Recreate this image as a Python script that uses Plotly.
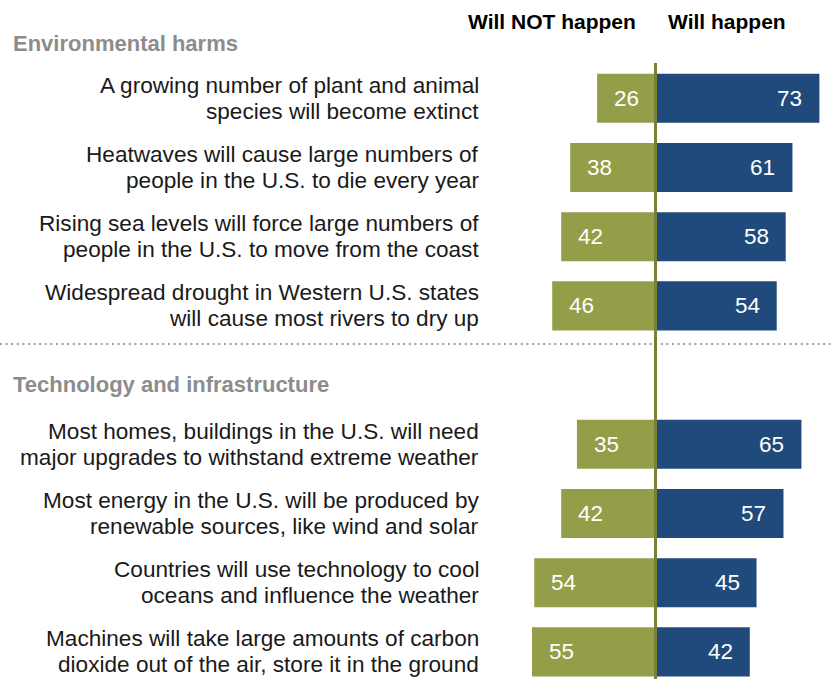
import plotly.graph_objects as go

# Survey items, grouped into two sections
section_names = ["Environmental harms", "Technology and infrastructure"]
items_env = [
    ["A growing number of plant and animal", "species will become extinct"],
    ["Heatwaves will cause large numbers of", "people in the U.S. to die every year"],
    ["Rising sea levels will force large numbers of", "people in the U.S. to move from the coast"],
    ["Widespread drought in Western U.S. states", "will cause most rivers to dry up"],
]
items_tech = [
    ["Most homes, buildings in the U.S. will need", "major upgrades to withstand extreme weather"],
    ["Most energy in the U.S. will be produced by", "renewable sources, like wind and solar"],
    ["Countries will use technology to cool", "oceans and influence the weather"],
    ["Machines will take large amounts of carbon", "dioxide out of the air, store it in the ground"],
]
will_not_env = [26, 38, 42, 46]
will_env = [73, 61, 58, 54]
will_not_tech = [35, 42, 54, 55]
will_tech = [65, 57, 45, 42]

GREEN = "#949d48"
BLUE = "#214a7c"
AXIS_LINE = "#7a8036"
FONT = "Liberation Sans, Arial, sans-serif"

items = items_env + items_tech
will_not = will_not_env + will_not_tech
will = will_env + will_tech
# row slots: one blank slot separates the two sections
rows = list(range(len(items_env))) + [len(items_env) + 1 + i for i in range(len(items_tech))]

PX_PER_UNIT = 2.245
CENTER_PX = 655.5
W, H = 834, 679
ROW_PX = 69.2
ROW0_PX = 98.3

x_range = [-CENTER_PX / PX_PER_UNIT, (W - CENTER_PX) / PX_PER_UNIT]
y_range = [(H - ROW0_PX) / ROW_PX, -ROW0_PX / ROW_PX]

fig = go.Figure()
fig.add_trace(go.Bar(
    y=rows, x=[-v for v in will_not], orientation="h", width=0.71,
    marker=dict(color=GREEN, line=dict(width=0)), hoverinfo="skip", name="Will NOT happen",
))
fig.add_trace(go.Bar(
    y=rows, x=will, orientation="h", width=0.71,
    marker=dict(color=BLUE, line=dict(width=0)), hoverinfo="skip", name="Will happen",
))

annotations = []
pad_units = 15.0 / PX_PER_UNIT
for r, nv, wv, lines in zip(rows, will_not, will, items):
    # value labels inside the outer ends of the bars
    annotations.append(dict(x=-nv + pad_units, y=r, xref="x", yref="y", text=str(nv),
                            xanchor="left", yanchor="middle", showarrow=False,
                            font=dict(family=FONT, size=22.5, color="white")))
    annotations.append(dict(x=wv - pad_units, y=r, xref="x", yref="y", text=str(wv),
                            xanchor="right", yanchor="middle", showarrow=False,
                            font=dict(family=FONT, size=22.5, color="white")))
    # two-line item label, right aligned next to the bars
    for k, line in enumerate(lines):
        annotations.append(dict(x=481 / W, y=r, xref="paper", yref="y", text=line,
                                xanchor="right", yanchor="middle", showarrow=False,
                                yshift=13 if k == 0 else -13,
                                font=dict(family=FONT, size=22.6, color="#1a1a1a")))

# section headings
annotations.append(dict(x=11 / W, y=1 - 43.5 / H, xref="paper", yref="paper",
                        text="<b>" + section_names[0] + "</b>", xanchor="left", yanchor="middle",
                        showarrow=False, font=dict(family=FONT, size=22, color="#8c8c8c")))
annotations.append(dict(x=11 / W, y=1 - 384 / H, xref="paper", yref="paper",
                        text="<b>" + section_names[1] + "</b>", xanchor="left", yanchor="middle",
                        showarrow=False, font=dict(family=FONT, size=22, color="#8c8c8c")))
# column headings
annotations.append(dict(x=551.5 / W, y=1 - 21 / H, xref="paper", yref="paper",
                        text="<b>Will NOT happen</b>", xanchor="center", yanchor="middle",
                        showarrow=False, font=dict(family=FONT, size=21, color="black")))
annotations.append(dict(x=726.5 / W, y=1 - 21 / H, xref="paper", yref="paper",
                        text="<b>Will happen</b>", xanchor="center", yanchor="middle",
                        showarrow=False, font=dict(family=FONT, size=21, color="black")))

shapes = [
    # dotted divider between the two sections
    dict(type="line", xref="paper", yref="paper", x0=0, x1=1,
         y0=1 - 344 / H, y1=1 - 344 / H,
         line=dict(color="#a0a0a0", width=2.2, dash="2px,3.6px")),
    # zero line
    dict(type="line", xref="x", yref="paper", x0=0, x1=0, y0=0, y1=1 - 63 / H,
         line=dict(color=AXIS_LINE, width=3)),
]

fig.update_layout(
    width=W, height=H, margin=dict(l=0, r=0, t=0, b=0),
    paper_bgcolor="white", plot_bgcolor="white",
    barmode="overlay", showlegend=False, hovermode=False,
    xaxis=dict(range=x_range, visible=False, fixedrange=True),
    yaxis=dict(range=y_range, visible=False, fixedrange=True),
    annotations=annotations, shapes=shapes,
)

fig.write_html("out.html", config={"displayModeBar": False})
